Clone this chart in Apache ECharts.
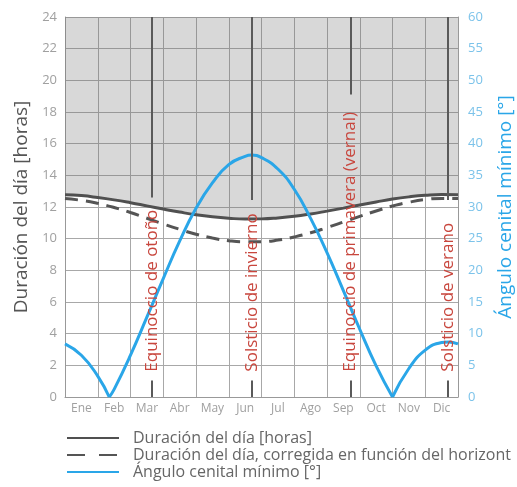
<!DOCTYPE html>
<html>
<head>
<meta charset="utf-8">
<script src="https://cdn.jsdelivr.net/npm/echarts/dist/echarts.min.js"></script>
<style>
    html, body { margin: 0; padding: 0; background: #fff; }
    #chart { width: 517px; height: 487px; }
</style>
</head>
<body>
<div id="chart"></div>
<script>
// categories (month labels)
var months = ['Ene', 'Feb', 'Mar', 'Abr', 'May', 'Jun', 'Jul', 'Ago', 'Sep', 'Oct', 'Nov', 'Dic'];

// day lengths, read every half month (position in months from 1 Jan)
var dayPos = [0, 0.5, 1, 1.5, 2, 2.5, 3, 3.5, 4, 4.5, 5, 5.5, 6, 6.5, 7, 7.5, 8, 8.5, 9, 9.5, 10, 10.5, 11, 11.5, 12];
var dayLength = [12.78, 12.72, 12.60, 12.45, 12.27, 12.07, 11.87, 11.68, 11.51, 11.38, 11.29, 11.24, 11.25,
    11.31, 11.41, 11.56, 11.74, 11.93, 12.13, 12.32, 12.50, 12.64, 12.74, 12.79, 12.78];
var dayLengthHorizon = [12.53, 12.42, 12.23, 11.97, 11.65, 11.29, 10.93, 10.59, 10.28, 10.04, 9.87, 9.80, 9.81,
    9.91, 10.11, 10.37, 10.70, 11.05, 11.41, 11.75, 12.06, 12.30, 12.47, 12.54, 12.53];

// minimum zenith angle [deg]
var anglePos = [0, 0.5, 1, 1.35, 1.5, 2, 2.5, 3, 3.5, 4, 4.5, 5, 5.5, 5.7, 6, 6.5, 7, 7.5, 8, 8.5, 9, 9.5, 10, 10.5, 11, 11.5, 11.7, 12];
var angleVals = [8.4, 6.6, 3.3, 0, 1.2, 6.6, 12.6, 18.7, 24.6, 29.8, 33.8, 36.7, 38.0, 38.2, 37.8, 36.0, 32.8,
    28.2, 22.8, 16.8, 10.7, 4.9, 0, 4.5, 7.4, 8.6, 8.7, 8.4];

// equinoxes / solstices
var eventNames = ['Equinoccio de otoño', 'Solsticio de invierno', 'Equinoccio de primavera (vernal)', 'Solsticio de verano'];
var eventPos = [2.66, 5.70, 8.72, 11.70];

var nameDay = 'Duración del día [horas]';
var nameHorizon = 'Duración del día, corregida en función del horizont';
var nameAngle = 'Ángulo cenital mínimo [°]';

var font = 'Open Sans';
var lineStop = [12.6, 12.45, 19.1, 12.45];   // upper marker line ends above the text

function pairs(xs, ys) {
    var out = [];
    for (var i = 0; i < xs.length; i++) out.push([xs[i], ys[i]]);
    return out;
}

// blue curve is split at its zero cusps so the V stays sharp
var angleSegments = [];
var seg = [];
for (var i = 0; i < anglePos.length; i++) {
    seg.push([anglePos[i], angleVals[i]]);
    if (angleVals[i] === 0 && seg.length > 1) {
        angleSegments.push(seg);
        seg = [[anglePos[i], angleVals[i]]];
    }
}
angleSegments.push(seg);

var markLines = [];
var markPoints = [];
for (var k = 0; k < eventPos.length; k++) {
    markLines.push([{coord: [eventPos[k], 24]}, {coord: [eventPos[k], lineStop[k]]}]);
    markLines.push([{coord: [eventPos[k], 1.05]}, {coord: [eventPos[k], 0]}]);
    markPoints.push({name: eventNames[k], coord: [eventPos[k], 1.6]});
}

var chart = echarts.init(document.getElementById('chart'));

var series = [
    {
        name: nameDay,
        type: 'line',
        xAxisIndex: 1,
        yAxisIndex: 0,
        data: pairs(dayPos, dayLength),
        smooth: true,
        symbol: 'none',
        lineStyle: {color: '#505050', width: 3},
        itemStyle: {color: '#505050'},
        areaStyle: {origin: 'end', color: 'rgba(110,110,110,0.38)'},
        z: 3,
        markLine: {
            silent: true,
            symbol: ['none', 'none'],
            label: {show: false},
            lineStyle: {color: '#5a5a5a', width: 2, type: 'solid'},
            data: markLines
        },
        markPoint: {
            silent: true,
            symbol: 'circle',
            symbolSize: 1,
            itemStyle: {color: 'rgba(0,0,0,0)'},
            label: {
                show: true,
                formatter: '{b}',
                position: 'inside',
                rotate: 90,
                align: 'left',
                verticalAlign: 'middle',
                color: '#c8463d',
                fontFamily: font,
                fontSize: 17
            },
            data: markPoints
        }
    },
    {
        name: nameHorizon,
        type: 'line',
        xAxisIndex: 1,
        yAxisIndex: 0,
        data: pairs(dayPos, dayLengthHorizon),
        smooth: true,
        symbol: 'none',
        lineStyle: {color: '#555555', width: 3, type: [13, 8]},
        itemStyle: {color: '#555555'},
        z: 3
    }
];

angleSegments.forEach(function (s) {
    series.push({
        name: nameAngle,
        type: 'line',
        xAxisIndex: 1,
        yAxisIndex: 1,
        data: s,
        smooth: true,
        symbol: 'none',
        lineStyle: {color: '#2aa6e8', width: 3},
        itemStyle: {color: '#2aa6e8'},
        z: 4
    });
});

var option = {
    animation: false,
    textStyle: {fontFamily: font},
    grid: {left: 65, right: 59, top: 17, bottom: 90, outerBoundsMode: 'none'},
    legend: {
        orient: 'vertical',
        left: 61,
        top: 425,
        itemWidth: 52,
        itemHeight: 12,
        itemGap: 1,
        itemStyle: {opacity: 0},
        textStyle: {color: '#666', fontSize: 16, lineHeight: 16, fontFamily: font, padding: [0, 0, 0, 9]},
        data: [
            {name: nameDay},
            {name: nameHorizon, lineStyle: {type: [18, 14]}},
            {name: nameAngle}
        ]
    },
    xAxis: [
        {
            type: 'category',
            data: months,
            boundaryGap: true,
            axisTick: {show: false},
            axisLine: {lineStyle: {color: '#999'}},
            axisLabel: {color: '#a0a0a0', fontSize: 12, margin: 6, fontFamily: font},
            splitLine: {show: true, lineStyle: {color: '#a8a8a8'}}
        },
        {
            type: 'value',
            min: 0,
            max: 12,
            show: false
        }
    ],
    yAxis: [
        {
            type: 'value',
            min: 0,
            max: 24,
            interval: 2,
            name: nameDay,
            nameLocation: 'middle',
            nameRotate: 90,
            nameGap: 33,
            nameTextStyle: {color: '#555', fontSize: 19, fontFamily: font},
            axisLine: {show: true, lineStyle: {color: '#999'}},
            axisTick: {show: false},
            axisLabel: {color: '#a0a0a0', fontSize: 13, margin: 8, fontFamily: font},
            splitLine: {show: true, lineStyle: {color: '#a8a8a8'}}
        },
        {
            type: 'value',
            position: 'right',
            min: 0,
            max: 60,
            interval: 5,
            name: nameAngle,
            nameLocation: 'middle',
            nameRotate: 90,
            nameGap: 38,
            nameTextStyle: {color: '#2aa6e8', fontSize: 19, fontFamily: font},
            axisLine: {show: true, lineStyle: {color: '#999'}},
            axisTick: {show: false},
            axisLabel: {color: '#7cc3ea', fontSize: 13, margin: 10, fontFamily: font},
            splitLine: {show: false}
        }
    ],
    series: series
};

chart.setOption(option);
window.onresize = chart.resize;
</script>
</body>
</html>
